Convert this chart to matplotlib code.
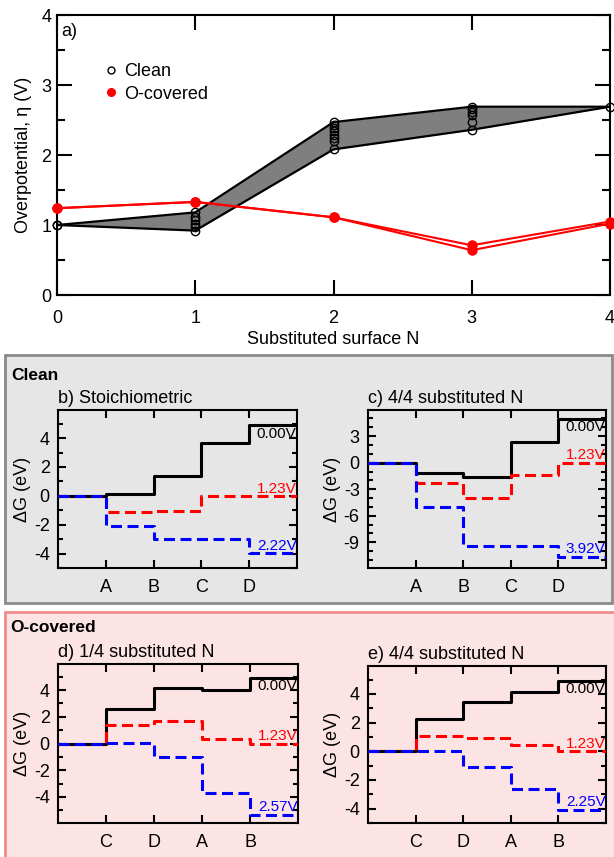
import numpy as np
import matplotlib
matplotlib.use("Agg")
import matplotlib.pyplot as plt
from matplotlib.patches import Rectangle
from matplotlib.ticker import MultipleLocator, FixedLocator
from matplotlib.lines import Line2D

plt.rcParams['font.family'] = ['Liberation Sans', 'DejaVu Sans']
plt.rcParams['axes.unicode_minus'] = False

# ---------------- data: panel a ----------------
n_substituted = [0, 1, 2, 3, 4]
clean_n0 = [1.00, 1.00]
clean_n1 = [0.92, 0.97, 1.02, 1.07, 1.12, 1.18]
clean_n2 = [2.08, 2.20, 2.24, 2.29, 2.34, 2.39, 2.43, 2.47]
clean_n3 = [2.36, 2.47, 2.57, 2.62, 2.66, 2.69]
clean_n4 = [2.69]
ocov_line1 = [1.24, 1.33, 1.11, 0.71, 1.05]
ocov_line2 = [1.24, 1.33, 1.11, 0.64, 1.02]

# ---------------- data: free energy diagrams ----------------
b_steps = ['A', 'B', 'C', 'D']
b_U000 = [0.0, 0.10, 1.41, 3.65, 4.92]
b_U123 = [0.0, -1.10, -1.05, -0.04, 0.0]
b_Ulim = [0.0, -2.08, -3.01, -3.01, -3.96]
b_lim_label = '2.22V'

c_steps = ['A', 'B', 'C', 'D']
c_U000 = [0.0, -1.12, -1.60, 2.32, 4.92]
c_U123 = [0.0, -2.34, -4.03, -1.38, 0.0]
c_Ulim = [0.0, -5.05, -9.40, -9.40, -10.65]
c_lim_label = '3.92V'

d_steps = ['C', 'D', 'A', 'B']
d_U000 = [0.0, 2.58, 4.15, 4.02, 4.92]
d_U123 = [0.0, 1.37, 1.66, 0.31, 0.0]
d_Ulim = [0.0, 0.02, -1.02, -3.69, -5.35]
d_lim_label = '2.57V'

e_steps = ['C', 'D', 'A', 'B']
e_U000 = [0.0, 2.23, 3.44, 4.14, 4.92]
e_U123 = [0.0, 1.10, 0.96, 0.46, 0.0]
e_Ulim = [0.0, 0.0, -1.12, -2.64, -4.06]
e_lim_label = '2.25V'

FS = 13

fig = plt.figure(figsize=(6.14, 8.57), dpi=100)
W, H = 614.0, 857.0

def frac(l, t, r, b):
    return [l / W, 1 - b / H, (r - l) / W, (b - t) / H]

# background boxes
fig.patches.append(Rectangle((5 / W, 1 - 603 / H), 607 / W, 248 / H,
                             transform=fig.transFigure, facecolor='#e6e6e6',
                             edgecolor='#8a8a8a', linewidth=2, zorder=-10))
fig.patches.append(Rectangle((5 / W, -0.01), 620 / W, 1 - 612 / H + 0.01,
                             transform=fig.transFigure, facecolor='#fde4e4',
                             edgecolor='#f08c8c', linewidth=2, zorder=-10))

# ---------------- panel a ----------------
ax = fig.add_axes(frac(57, 15, 610, 295))
groups = [clean_n0, clean_n1, clean_n2, clean_n3, clean_n4]
upper = [max(g) for g in groups]
lower = [min(g) for g in groups]
ax.fill_between(n_substituted, lower, upper, color='#7f7f7f', zorder=1, linewidth=0)
ax.plot(n_substituted, upper, color='black', lw=1.6, zorder=2)
ax.plot(n_substituted, lower, color='black', lw=1.6, zorder=2)
for xv, g in zip(n_substituted, groups):
    ax.plot([xv] * len(g), g, 'o', mfc='none', mec='black', ms=6, mew=1.0,
            zorder=3, clip_on=False)
for line in (ocov_line1, ocov_line2):
    ax.plot(n_substituted, line, '-o', color='red', lw=1.5, ms=6.5,
            zorder=4, clip_on=False)
ax.set_xlim(0, 4)
ax.set_ylim(0, 4)
ax.xaxis.set_major_locator(MultipleLocator(1))
ax.yaxis.set_major_locator(MultipleLocator(1))
ax.yaxis.set_minor_locator(MultipleLocator(0.5))
ax.tick_params(which='both', direction='in', top=True, right=True, labelsize=FS, width=1.5)
ax.tick_params(which='major', length=11, pad=11)
ax.tick_params(axis='y', which='major', pad=4)
ax.tick_params(which='minor', length=6)
for s in ax.spines.values():
    s.set_linewidth(1.5)
ax.set_xlabel('Substituted surface N', fontsize=FS, labelpad=3)
ax.set_ylabel('Overpotential, η (V)', fontsize=FS, labelpad=7)
ax.text(0.008, 0.94, 'a)', transform=ax.transAxes, fontsize=FS, va='center')
handles = [Line2D([], [], ls='none', marker='o', mfc='none', mec='black', ms=5, mew=1.0),
           Line2D([], [], ls='none', marker='o', color='red', ms=5.5)]
ax.legend(handles, ['Clean', 'O-covered'], loc='upper left',
          bbox_to_anchor=(0.058, 0.873), frameon=False, fontsize=FS,
          handletextpad=0.25, labelspacing=0.3, handlelength=1.0, borderpad=0.2)

# ---------------- small panels ----------------
def fed(rect, steps, g0, g1, g2, lim_label, title, ylim, major, minor, lab_y):
    a = fig.add_axes(rect)
    a.set_facecolor('none')
    x = np.arange(len(g0) + 1)
    kw = dict(where='post', lw=2.2)
    a.step(x, list(g0) + [g0[-1]], color='black', zorder=3, **kw)
    a.step(x, list(g1) + [g1[-1]], color='red', dashes=(3.6, 1.8), zorder=4, **kw)
    a.step(x, list(g2) + [g2[-1]], color='blue', dashes=(3.6, 1.8), zorder=5, **kw)
    a.set_xlim(0, len(g0))
    a.set_ylim(*ylim)
    a.xaxis.set_major_locator(FixedLocator(range(1, len(g0))))
    a.set_xticklabels(steps)
    a.yaxis.set_major_locator(MultipleLocator(major))
    a.yaxis.set_minor_locator(MultipleLocator(minor))
    a.tick_params(which='both', direction='in', top=True, right=True, labelsize=FS, width=1.5)
    a.tick_params(which='major', length=6)
    a.tick_params(axis='x', which='major', pad=8)
    a.tick_params(axis='y', which='major', pad=6)
    a.tick_params(which='minor', length=3.5)
    for s in a.spines.values():
        s.set_linewidth(1.5)
    a.set_ylabel('ΔG (eV)', fontsize=FS, labelpad=2)
    a.set_title(title, fontsize=FS, loc='left', pad=5)
    xr = len(g0) - 0.01
    a.text(xr, lab_y[0], '0.00V', color='black', fontsize=11, ha='right', va='top', zorder=6)
    a.text(xr, lab_y[1], '1.23V', color='red', fontsize=11, ha='right', va='bottom', zorder=6)
    a.text(xr, lab_y[2], lim_label, color='blue', fontsize=11, ha='right', va='bottom', zorder=6)
    return a

fed(frac(58, 410, 297, 568), b_steps, b_U000, b_U123, b_Ulim, b_lim_label,
    'b) Stoichiometric', (-5, 5.95), 2, 1, (4.8, 0.0, -3.95))
fed(frac(368, 410, 606, 568), c_steps, c_U000, c_U123, c_Ulim, c_lim_label,
    'c) 4/4 substituted N', (-11.9, 5.95), 3, 1, (4.8, 0.05, -10.6))
fed(frac(58, 664, 298, 823), d_steps, d_U000, d_U123, d_Ulim, d_lim_label,
    'd) 1/4 substituted N', (-5.95, 5.95), 2, 1, (4.8, 0.0, -5.3))
fed(frac(368, 666, 606, 823), e_steps, e_U000, e_U123, e_Ulim, e_lim_label,
    'e) 4/4 substituted N', (-5, 5.95), 2, 1, (4.8, 0.0, -4.0))

fig.text(11 / W, 1 - 375 / H, 'Clean', fontsize=12.5, fontweight='bold', va='center')
fig.text(10 / W, 1 - 628 / H, 'O-covered', fontsize=12.5, fontweight='bold', va='center')

fig.savefig('out.png', dpi=100)
